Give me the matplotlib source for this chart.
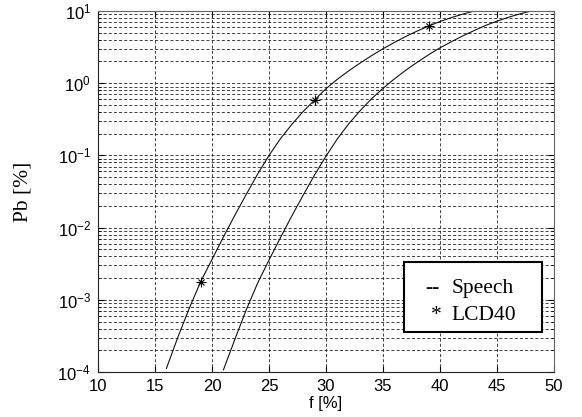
import matplotlib
matplotlib.use("Agg")
import matplotlib.pyplot as plt
from matplotlib.patches import Rectangle
from matplotlib.ticker import LogLocator, NullFormatter

plt.rcParams['font.family'] = ['Liberation Sans', 'DejaVu Sans']
plt.rcParams['lines.scale_dashes'] = False

# Blocking probability curves
f_speech = [16, 17, 18, 19, 20, 21, 22, 23, 24, 25, 26, 27, 28, 29, 30,
            31, 32, 33, 34, 35, 36, 37, 38, 39, 40, 41, 42, 43, 44]
pb_speech = [1.12e-4, 3.02e-4, 7.59e-4, 1.78e-3, 3.63e-3, 7.41e-3, 0.0148,
             0.0288, 0.0550, 0.100, 0.170, 0.269, 0.406, 0.585, 0.841, 1.135,
             1.486, 1.905, 2.41, 3.0, 3.67, 4.44, 5.28, 6.19, 7.15, 8.11,
             9.06, 10.0, 10.96]

f_lcd = [21, 22, 23, 24, 25, 26, 27, 28, 29, 30, 31, 32, 33, 34, 35,
         36, 37, 38, 39, 40, 41, 42, 43, 44, 45, 46, 47, 48, 49]
pb_lcd = [1.07e-4, 2.82e-4, 7.24e-4, 1.70e-3, 3.55e-3, 7.24e-3, 0.0145,
          0.0282, 0.0537, 0.0977, 0.170, 0.275, 0.417, 0.610, 0.851, 1.148,
          1.514, 1.95, 2.48, 3.09, 3.76, 4.52, 5.37, 6.31, 7.24, 8.18, 9.12,
          10.0, 10.96]

# asterisk markers on the first curve
f_mark = [19, 29, 39]
pb_mark = [1.78e-3, 0.585, 6.19]

fig = plt.figure(figsize=(5.82, 4.17), dpi=100)
ax = fig.add_axes([0.1684, 0.1079, 0.7835, 0.8657])

ax.semilogy(f_speech, pb_speech, color='#111111', lw=0.8)
ax.semilogy(f_lcd, pb_lcd, color='#111111', lw=0.8)
ax.plot(f_mark, pb_mark, ls='none', marker='+', ms=7, mew=0.8, color='black')
ax.plot(f_mark, pb_mark, ls='none', marker='x', ms=5, mew=0.8, color='black')

ax.set_xlim(10, 50)
ax.set_ylim(1e-4, 1e1)
ax.set_xticks(range(10, 51, 5))
ax.yaxis.set_major_locator(LogLocator(base=10, numticks=10))
ax.yaxis.set_minor_locator(LogLocator(base=10, subs=range(2, 10), numticks=20))
ax.yaxis.set_minor_formatter(NullFormatter())

dash = (0, (2.2, 1.5))
ax.grid(True, which='major', axis='both', color='#222222', lw=0.6, ls=dash)
ax.grid(True, which='minor', axis='y', color='#222222', lw=0.6, ls=dash)
ax.set_axisbelow(True)

ax.tick_params(which='both', direction='in', labelsize=12, pad=5,
               top=True, right=True)
ax.tick_params(which='major', length=4)
ax.tick_params(which='minor', length=2)
for side in ['left', 'bottom']:
    ax.spines[side].set_color('#222222')
for side in ['top', 'right']:
    ax.spines[side].set_color('#666666')

serif = ['Liberation Serif', 'DejaVu Serif']
fig.text(0.0395, 0.541, 'Pb [%]', rotation=90, ha='center', va='center',
         fontsize=15.5, family=serif)
fig.text(0.5593, 0.0312, 'f [%]', ha='center', va='center', fontsize=12)

# boxed note instead of a legend
ax.add_patch(Rectangle((0.671, 0.111), 0.303, 0.194, transform=ax.transAxes,
                       facecolor='white', edgecolor='black', lw=1.5, zorder=5))
ax.text(0.7186, 0.218, '--', transform=ax.transAxes, fontsize=15.5,
        family=serif, va='baseline', zorder=6)
ax.text(0.7757, 0.218, 'Speech', transform=ax.transAxes, fontsize=15.5,
        family=serif, va='baseline', zorder=6)
ax.text(0.731, 0.144, '*', transform=ax.transAxes, fontsize=15.5,
        family=serif, va='baseline', zorder=6)
ax.text(0.7757, 0.144, 'LCD40', transform=ax.transAxes, fontsize=15.5,
        family=serif, va='baseline', zorder=6)

fig.savefig('out.png', dpi=100)
